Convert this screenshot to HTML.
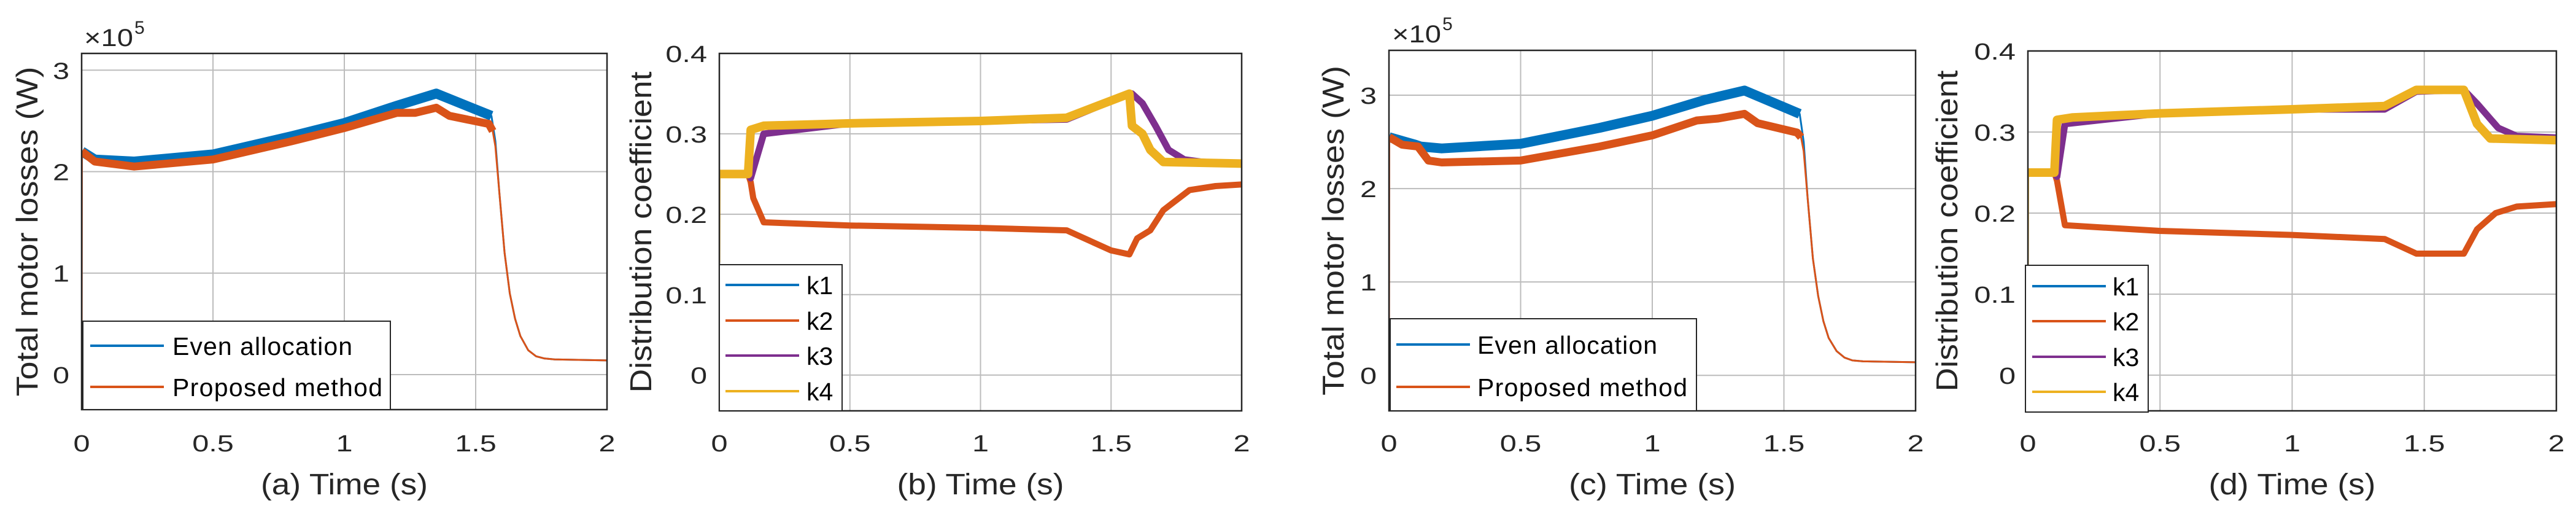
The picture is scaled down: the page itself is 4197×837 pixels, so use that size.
<!DOCTYPE html>
<html><head><meta charset="utf-8"><style>
html,body{margin:0;padding:0;background:#fff;}
svg{display:block;font-family:"Liberation Sans",Arial,sans-serif;}
</style></head><body>
<svg id="fig" width="4197" height="837" viewBox="0 0 4197 837" xmlns="http://www.w3.org/2000/svg"></svg>
<script>
// ---------- data ----------
const xTicks=[0,0.5,1,1.5,2];
const xTickLabels=["0","0.5","1","1.5","2"];
const lossTicks=[0,1,2,3];
const lossTickLabels=["0","1","2","3"];
const kTicks=[0,0.1,0.2,0.3,0.4];
const kTickLabels=["0","0.1","0.2","0.3","0.4"];

const aEvenT=[0,0.001,0.05,0.2,0.5,0.8,1.0,1.2,1.35,1.56,1.575,1.59,1.61,1.63,1.65,1.67,1.7,1.73,1.76,1.8,2];
const aEvenV=[0,2.2,2.12,2.1,2.17,2.35,2.48,2.65,2.77,2.55,2.3,1.8,1.2,0.8,0.55,0.38,0.24,0.18,0.16,0.15,0.14];
const aPropT=[0,0.001,0.05,0.2,0.5,0.8,1.0,1.2,1.27,1.35,1.4,1.55,1.565,1.575,1.59,1.61,1.63,1.65,1.67,1.7,1.73,1.76,1.8,2];
const aPropV=[0,2.2,2.1,2.05,2.12,2.3,2.43,2.58,2.58,2.63,2.55,2.47,2.4,2.25,1.8,1.2,0.8,0.55,0.38,0.24,0.18,0.16,0.15,0.14];

const cEvenT=[0,0.001,0.1,0.12,0.2,0.5,0.8,1.0,1.2,1.35,1.56,1.575,1.59,1.61,1.63,1.65,1.67,1.7,1.73,1.76,1.8,2];
const cEvenV=[0,2.55,2.47,2.45,2.43,2.48,2.65,2.78,2.95,3.05,2.8,2.5,1.9,1.25,0.85,0.58,0.4,0.26,0.19,0.16,0.15,0.14];
const cPropT=[0,0.001,0.05,0.11,0.15,0.2,0.5,0.8,1.0,1.17,1.25,1.35,1.4,1.55,1.565,1.575,1.59,1.61,1.63,1.65,1.67,1.7,1.73,1.76,1.8,2];
const cPropV=[0,2.55,2.47,2.45,2.3,2.28,2.3,2.45,2.57,2.73,2.75,2.8,2.7,2.6,2.55,2.4,1.9,1.25,0.85,0.58,0.4,0.26,0.19,0.16,0.15,0.14];

const bK4T=[0,0.001,0.11,0.12,0.17,0.5,1.0,1.33,1.57,1.58,1.62,1.65,1.7,2];
const bK4V=[0.14,0.25,0.25,0.305,0.31,0.313,0.316,0.32,0.35,0.31,0.3,0.28,0.265,0.263];
const bK1T=[0.001,0.11,0.12,0.17,0.5,1.0,1.33,1.57,1.58,1.62,1.65,1.7,2];
const bK1V=[0.25,0.25,0.305,0.31,0.313,0.316,0.32,0.35,0.31,0.3,0.28,0.265,0.263];
const bK3T=[0.001,0.11,0.12,0.17,0.5,1.0,1.33,1.57,1.58,1.62,1.67,1.72,1.78,1.85,2];
const bK3V=[0.25,0.25,0.245,0.3,0.313,0.316,0.318,0.35,0.35,0.338,0.31,0.28,0.268,0.265,0.263];
const bK2T=[0.001,0.11,0.12,0.13,0.17,0.5,1.0,1.33,1.5,1.57,1.6,1.65,1.7,1.8,1.9,2];
const bK2V=[0.25,0.25,0.24,0.22,0.19,0.186,0.183,0.18,0.155,0.15,0.17,0.18,0.205,0.23,0.235,0.237];

const dK4T=[0,0.001,0.1,0.11,0.17,0.5,1.0,1.35,1.47,1.65,1.7,1.75,2];
const dK4V=[0.13,0.25,0.25,0.315,0.318,0.323,0.328,0.332,0.352,0.352,0.31,0.292,0.29];
const dK1T=[0.001,0.1,0.11,0.17,0.5,1.0,1.35,1.47,1.65,1.7,1.75,2];
const dK1V=[0.25,0.25,0.315,0.318,0.323,0.328,0.332,0.352,0.352,0.31,0.292,0.29];
const dK3T=[0.001,0.1,0.11,0.14,0.5,1.0,1.35,1.47,1.65,1.7,1.78,1.85,2];
const dK3V=[0.25,0.25,0.245,0.31,0.323,0.328,0.328,0.35,0.352,0.335,0.305,0.295,0.293];
const dK2T=[0.001,0.1,0.11,0.14,0.5,1.0,1.35,1.47,1.65,1.7,1.77,1.85,2];
const dK2V=[0.25,0.25,0.24,0.185,0.178,0.173,0.168,0.15,0.15,0.18,0.2,0.208,0.211];

// ---------- drawing ----------
const NS="http://www.w3.org/2000/svg";
const svg=document.getElementById('fig');
const C={blue:"#0072BD",orange:"#D95319",purple:"#7E2F8E",yellow:"#EDB120"};
function mk(tag,attrs,parent){const e=document.createElementNS(NS,tag);for(const k in attrs)e.setAttribute(k,attrs[k]);(parent||svg).appendChild(e);return e;}

function panel(p){
  const g=mk('g',{});
  
  
  const sx=t=>p.L+(t-0)/(2-0)*(p.R-p.L);
  const sy=v=>p.B-(v-p.ymin)/(p.ymax-p.ymin)*(p.B-p.T);
  mk('rect',{x:p.L,y:p.T,width:p.R-p.L,height:p.B-p.T,fill:'#fff'},g);
  const grid=mk('g',{stroke:'#bcbcbc','stroke-width':2},g);
  
  
  xTicks.forEach(t=>{if(t>0&&t<2)mk('line',{x1:sx(t),x2:sx(t),y1:p.T,y2:p.B},grid);});
  p.yt.forEach(v=>{const y=sy(v);if(y>p.T+2&&y<p.B-2)mk('line',{x1:p.L,x2:p.R,y1:y,y2:y},grid);});
  const cid='clip'+p.name;
  const cp=mk('clipPath',{id:cid},g);mk('rect',{x:p.L,y:p.T,width:p.R-p.L,height:p.B-p.T},cp);
  const sg=mk('g',{'clip-path':'url(#'+cid+')',fill:'none','stroke-linejoin':'round'},g);
  p.series.forEach(s=>{
    const pts=s.t.map((t,i)=>sx(t).toFixed(1)+','+sy(s.v[i]).toFixed(1)).join(' ');
    const thin=mk('polyline',{points:pts,stroke:s.c,'stroke-width':3},sg);
    
    
    const tp=[];s.t.forEach((t,i)=>{if(t>=s.from&&t<=s.to)tp.push(sx(t).toFixed(1)+','+sy(s.v[i]).toFixed(1));});
    const thick=mk('polyline',{points:tp.join(' '),stroke:s.c,'stroke-width':s.w},sg);
    
    
  });
  const box=mk('rect',{x:p.L,y:p.T,width:p.R-p.L,height:p.B-p.T,fill:'none',stroke:'#262626','stroke-width':2.5},g);
  
  
  xTicks.forEach((t,i)=>{
    const e=mk('text',{x:sx(t),y:735,'font-size':38,'text-anchor':'middle',fill:'#262626',transform:'translate('+sx(t)+',0) scale(1.28,1) translate('+(-sx(t))+',0)'},g);
    e.textContent=xTickLabels[i];
    
    
  });
  p.yt.forEach((v,i)=>{
    const x=p.L-20,y=sy(v)+14;
    const e=mk('text',{x:x,y:y,'font-size':38,'text-anchor':'end',fill:'#262626',transform:'translate('+x+',0) scale(1.28,1) translate('+(-x)+',0)'},g);
    e.textContent=p.ytl[i];
    
    
  });
  const xl=mk('text',{x:(p.L+p.R)/2,y:805,'font-size':48,'text-anchor':'middle',fill:'#262626',textLength:272,lengthAdjust:'spacingAndGlyphs'},g);
  xl.textContent=p.xlabel;
  
  
  const cy=(p.T+p.B)/2, bx=p.ylx+15;
  const yl=mk('text',{x:bx,y:cy,'font-size':49,'text-anchor':'middle',fill:'#262626',transform:'rotate(-90 '+bx+' '+cy+')',textLength:p.ylen,lengthAdjust:'spacingAndGlyphs'},g);
  yl.textContent=p.ylabel;
  
  
  if(p.exp){
    const ex=mk('text',{x:p.exp[0],y:p.exp[1],'font-size':40,fill:'#262626',textLength:80,lengthAdjust:'spacingAndGlyphs'},g);
    ex.textContent='×10';
    
    
    const s5=mk('text',{x:p.exp[0]+82,y:p.exp[1]-20,'font-size':30,fill:'#262626'},g);
    s5.textContent='5';
    
    
  }
  const lg=mk('g',{},g);
  
  
  const L=p.leg;
  mk('rect',{x:L.x,y:L.y,width:L.w,height:L.h,fill:'#fff',stroke:'#262626','stroke-width':2},lg);
  L.items.forEach((it,i)=>{
    const y=L.ys[i];
    const ln=mk('line',{x1:L.lx,x2:L.lx+120,y1:y,y2:y,stroke:it[1],'stroke-width':4},lg);
    
    
    const tx=mk('text',{x:L.tx,y:y+15,'font-size':41,fill:'#000'},lg);
    tx.textContent=it[0];
    
    
    if(L.tl)tx.setAttribute('textLength',L.tl[i]);
  });
}

const evenS=(t,v)=>({n:'even-allocation',t:t,v:v,c:C.blue,w:16,from:0.001,to:1.565});
const propS=(t,v)=>({n:'proposed-method',t:t,v:v,c:C.orange,w:13,from:0.001,to:1.565});

panel({name:'panel-a',L:133,R:989,T:87,B:667,ymin:-0.345,ymax:3.165,yt:lossTicks,ytl:lossTickLabels,
  xlabel:'(a) Time (s)',ylabel:'Total motor losses (W)',ylx:46,ylen:537,exp:[137,75],
  series:[evenS(aEvenT,aEvenV),propS(aPropT,aPropV)],
  leg:{x:135,y:523,w:501,h:144,lx:147,tx:281,ys:[563,630],tl:[293,342],items:[['Even allocation',C.blue],['Proposed method',C.orange]]}});

panel({name:'panel-c',L:2263,R:3121,T:82,B:669,ymin:-0.38,ymax:3.48,yt:lossTicks,ytl:lossTickLabels,
  xlabel:'(c) Time (s)',ylabel:'Total motor losses (W)',ylx:2174,ylen:537,exp:[2268,69],
  series:[evenS(cEvenT,cEvenV),propS(cPropT,cPropV)],
  leg:{x:2265,y:519,w:499,h:150,lx:2275,tx:2407,ys:[561,630],tl:[293,342],items:[['Even allocation',C.blue],['Proposed method',C.orange]]}});

const kS=(n,t,v,c,w)=>({n:n,t:t,v:v,c:c,w:w,from:0.001,to:2});
panel({name:'panel-b',L:1172,R:2023,T:87,B:669,ymin:-0.0445,ymax:0.4,yt:kTicks,ytl:kTickLabels,
  xlabel:'(b) Time (s)',ylabel:'Distribution coefficient',ylx:1046,ylen:523,
  series:[kS('k1',bK1T,bK1V,C.blue,13),kS('k2',bK2T,bK2V,C.orange,10),kS('k3',bK3T,bK3V,C.purple,11),kS('k4',bK4T,bK4V,C.yellow,14)],
  leg:{x:1172,y:431,w:200,h:238,lx:1182,tx:1314,ys:[464,522,579,637],items:[['k1',C.blue],['k2',C.orange],['k3',C.purple],['k4',C.yellow]]}});

panel({name:'panel-d',L:3304,R:4165,T:83,B:669,ymin:-0.044,ymax:0.4,yt:kTicks,ytl:kTickLabels,
  xlabel:'(d) Time (s)',ylabel:'Distribution coefficient',ylx:3174,ylen:523,
  series:[kS('k1',dK1T,dK1V,C.blue,13),kS('k2',dK2T,dK2V,C.orange,10),kS('k3',dK3T,dK3V,C.purple,11),kS('k4',dK4T,dK4V,C.yellow,14)],
  leg:{x:3300,y:432,w:200,h:239,lx:3311,tx:3442,ys:[466,523,581,638],items:[['k1',C.blue],['k2',C.orange],['k3',C.purple],['k4',C.yellow]]}});
</script>
</body></html>
